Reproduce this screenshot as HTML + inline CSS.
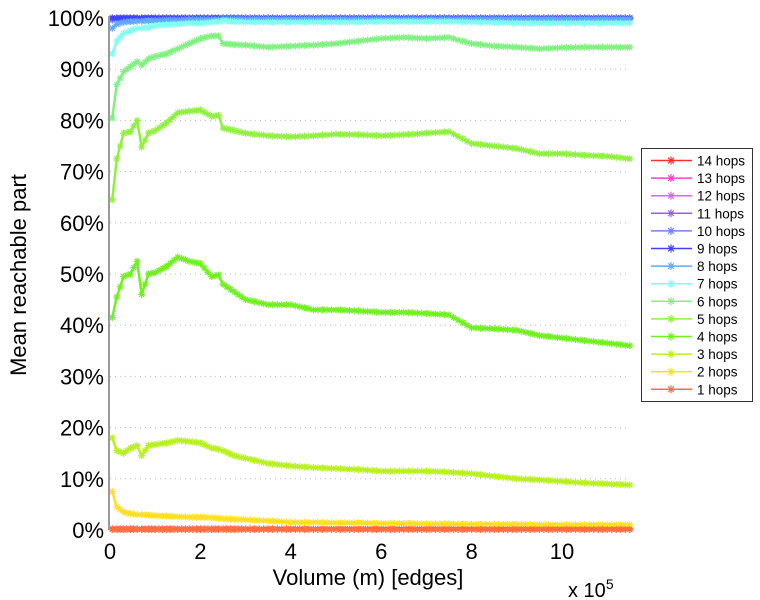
<!DOCTYPE html>
<html><head><meta charset="utf-8">
<style>
body{margin:0;background:#fff;width:760px;height:600px;overflow:hidden;font-family:"Liberation Sans",sans-serif;}
svg{display:block}
</style></head>
<body>
<svg id="chart" width="760" height="600" xmlns="http://www.w3.org/2000/svg">
<g id="grid"></g>
<g id="series"></g>
<g id="axes"></g>
<text x="20" y="275" transform="rotate(-90 20 275)" text-anchor="middle" font-size="22" dominant-baseline="middle">Mean reachable part</text>
<text x="368" y="585" text-anchor="middle" font-size="22">Volume (m) [edges]</text>
<text x="568" y="597" font-size="20">x 10<tspan dy="-8" font-size="14">5</tspan></text>
<g id="legend"></g>
</svg>
<script>
const xs=[0.05,0.15,0.3,0.45,0.6,0.7,0.85,1,1.25,1.5,1.75,2,2.25,2.4,2.5,2.75,3,3.5,4,4.5,5,5.5,6,6.5,7,7.5,8,8.5,9,9.5,10,10.5,11,11.5];
const hops14=[0.2,0.2,0.2,0.2,0.2,0.2,0.2,0.2,0.2,0.2,0.2,0.2,0.2,0.2,0.2,0.2,0.2,0.2,0.2,0.2,0.2,0.2,0.2,0.2,0.2,0.2,0.2,0.2,0.2,0.2,0.2,0.2,0.2,0.2];
const hopsTop=[100,100,100,100,100,100,100,100,100,100,100,100,100,100,100,100,100,100,100,100,100,100,100,100,100,100,100,100,100,100,100,100,100,100];
const hops10=[99.6,99.7,99.8,99.8,99.8,99.8,99.8,99.8,99.9,99.9,99.9,99.9,99.9,99.9,100,100,100,100,100,100,100,100,100,100,100,100,100,100,100,100,100,100,100,100];
const hops8=[98,98.8,99.2,99.3,99.4,99.4,99.5,99.5,99.6,99.6,99.7,99.7,99.7,99.7,99.8,99.8,99.8,99.8,99.8,99.8,99.8,99.8,99.8,99.8,99.8,99.8,99.8,99.8,99.8,99.8,99.8,99.8,99.8,99.8];
const hops7=[93,95.5,97,97.5,98,98,98.2,98.5,98.7,98.8,99,99,99.2,99.3,99.5,99.3,99.2,99.2,99.2,99.2,99.2,99.2,99.3,99.3,99.3,99.3,99.2,99.1,99,99,99,99,99,99];
const hops6=[80.5,87,89.5,90.5,91.5,90.8,92,92.5,93,94,95,96,96.5,96.5,95,94.8,94.7,94.3,94.5,94.7,95,95.5,96,96.2,96,96.2,95,94.5,94.3,94,94.2,94.3,94.3,94.3];
const hops5=[64.5,72.5,77.5,77.8,80,74.8,77.5,78,79.5,81.5,81.8,82,80.8,81,78.5,78,77.5,77,76.8,77,77.3,77.2,77,77.2,77.5,77.8,75.5,75,74.5,73.5,73.5,73.2,73,72.5];
const hops4=[41.5,45.5,49.5,50,52.5,46,50,50.3,51.5,53.3,52.5,52,49.5,49.8,48,46.5,45,44,44,43,43,42.8,42.5,42.5,42.3,42,39.5,39.3,39,38,37.5,37,36.5,36];
const hops3=[18,15.5,15,16,16.5,14.5,16.5,16.7,17,17.5,17.3,17,16,15.8,15.5,14.5,14,13,12.5,12.2,12,11.8,11.5,11.5,11.5,11.3,11,10.5,10,9.8,9.5,9.2,9,8.8];
const hops2=[7.5,4.5,3.5,3.2,3,3,2.9,2.8,2.7,2.6,2.5,2.5,2.4,2.3,2.2,2.1,2,1.8,1.5,1.5,1.4,1.4,1.3,1.3,1.2,1.2,1.1,1.1,1.1,1,1,1,1,1];
const hops1=[0.1,0.1,0.1,0.1,0.1,0.1,0.1,0.1,0.1,0.1,0.1,0.1,0.1,0.1,0.1,0.1,0.1,0.1,0.1,0.1,0.1,0.1,0.1,0.1,0.1,0.1,0.1,0.1,0.1,0.1,0.1,0.1,0.1,0.1];
const labels=["14 hops","13 hops","12 hops","11 hops","10 hops","9 hops","8 hops","7 hops","6 hops","5 hops","4 hops","3 hops","2 hops","1 hops"];
const colors=["#ff3030","#ff40c8","#e060ff","#9060ff","#7080ff","#4040ff","#60a8ff","#80fff0","#80f080","#90f040","#70f020","#b8f020","#ffe020","#ff7040"];
const seriesData=[hops14,hopsTop,hopsTop,hopsTop,hops10,hopsTop,hops8,hops7,hops6,hops5,hops4,hops3,hops2,hops1];
const yTicks=[0,10,20,30,40,50,60,70,80,90,100];
const xTicks=[0,2,4,6,8,10];
const NS="http://www.w3.org/2000/svg";
const X0=110,XS=45.2,Y0=530,YS=5.12;
const sx=v=>X0+v*XS, sy=v=>Y0-v*YS;
function mk(t,a,p){const e=document.createElementNS(NS,t);for(const k in a)e.setAttribute(k,a[k]);p.appendChild(e);return e;}
const grid=document.getElementById('grid'),axes=document.getElementById('axes'),ser=document.getElementById('series'),leg=document.getElementById('legend');
yTicks.forEach(t=>{
 if(t>0&&t<100){const l=mk('line',{x1:X0,x2:630,y1:sy(t),y2:sy(t),stroke:'#bbb','stroke-dasharray':'1 4'},grid);
 
 }
 const tx=mk('text',{x:104,y:sy(t)+8,'text-anchor':'end','font-size':22},axes);tx.textContent=t+'%';
 
 
});
xTicks.forEach(t=>{
 const tx=mk('text',{x:sx(t),y:559,'text-anchor':'middle','font-size':22},axes);tx.textContent=t;
 
 
});
const ya=mk('line',{x1:X0-1,x2:X0-1,y1:16,y2:Y0,stroke:'#999','stroke-width':2},axes);


function star(g,x,y,c,r){
 for(let i=0;i<4;i++){const a=i*Math.PI/4;mk('line',{x1:x-r*Math.cos(a),y1:y-r*Math.sin(a),x2:x+r*Math.cos(a),y2:y+r*Math.sin(a),stroke:c,'stroke-width':1.2},g);}
}
for(let s=0;s<seriesData.length;s++){
 const d=seriesData[s];
 const g=mk('g',{},ser);
 
 
 const pts=xs.map((x,i)=>sx(x)+','+sy(d[i])).join(' ');
 mk('polyline',{points:pts,fill:'none',stroke:colors[s],'stroke-width':2.5,'stroke-linejoin':'round'},g);
 for(let i=0;i<xs.length-1;i++){
  const n=Math.max(1,Math.round((xs[i+1]-xs[i])*XS/4.5));
  for(let k=0;k<n;k++){const f=k/n;star(g,sx(xs[i]+(xs[i+1]-xs[i])*f),sy(d[i]+(d[i+1]-d[i])*f),colors[s],3.5);}
 }
 star(g,sx(xs[xs.length-1]),sy(d[d.length-1]),colors[s],3.5);
}
const box=mk('rect',{x:641.5,y:148.5,width:111,height:253,fill:'#fff',stroke:'#333','stroke-width':1},leg);


labels.forEach((lb,i)=>{
 const y=160.5+i*17.6;
 const g=mk('g',{},leg);
 
 
 mk('line',{x1:651,x2:692,y1:y,y2:y,stroke:colors[i],'stroke-width':1.5},g);
 star(g,671,y,colors[i],4);
 const t=mk('text',{x:697,y:y+5,'font-size':13.5},g);t.textContent=lb;
});
</script>
</body></html>
